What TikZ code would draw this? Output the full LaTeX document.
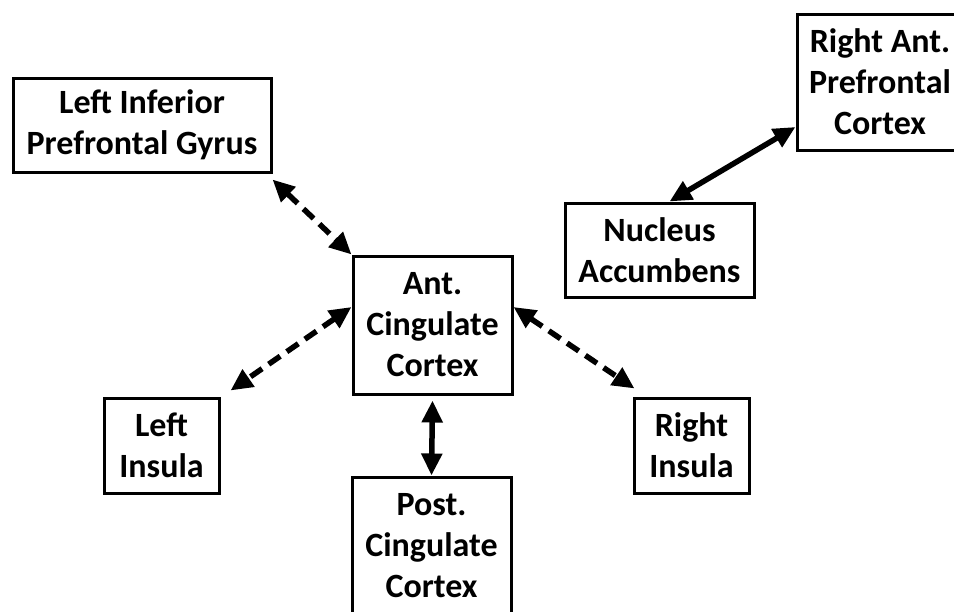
\documentclass[tikz,border=0pt]{standalone}
\usepackage{fontspec}
\setmainfont{Carlito}
\usetikzlibrary{arrows.meta}
\tikzset{
  box/.style={draw=black, line width=3pt, fill=white, inner sep=0pt, align=center,
    font=\fontsize{34}{41}\selectfont\bfseries},
  solidarrow/.style={line width=5.5pt, {Triangle[length=22pt,width=20pt]}-{Triangle[length=22pt,width=20pt]}},
  dasharrow/.style={solidarrow, dash pattern=on 14pt off 8pt},
}
\begin{document}
\begin{tikzpicture}[x=1pt,y=-1pt]
\useasboundingbox (0,0) rectangle (954,611);
\node[box, minimum width=258pt, minimum height=94pt] (lipg) at (142,125) {Left Inferior\\Prefrontal Gyrus};
\node[box, minimum width=166pt, minimum height=136pt] (rapc) at (880,82) {Right Ant.\\Prefrontal\\Cortex};
\node[box, minimum width=189pt, minimum height=94pt] (na) at (659.5,250) {Nucleus\\Accumbens};
\node[box, minimum width=159pt, minimum height=138pt] (acc) at (432.5,325) {Ant.\\Cingulate\\Cortex};
\node[box, minimum width=115pt, minimum height=95pt] (li) at (161.5,445.5) {Left\\Insula};
\node[box, minimum width=115pt, minimum height=95pt] (ri) at (691.5,445.5) {Right\\Insula};
\node[box, minimum width=159pt, minimum height=138pt] (pcc) at (431.5,546) {Post.\\Cingulate\\Cortex};

\draw[dasharrow] ([yshift=-6pt]lipg.south east) -- (acc.north west);
\draw[solidarrow] ([yshift=-45pt]rapc.west) -- ([xshift=10pt]na.north);
\draw[dasharrow] ([yshift=18pt]acc.west) -- ([shift={(10pt,6pt)}]li.north east);
\draw[dasharrow] ([yshift=18pt]acc.east) -- ([shift={(2pt,8pt)}]ri.north west);
\draw[solidarrow] ([yshift=-5pt]acc.south) -- (pcc.north);
\end{tikzpicture}
\end{document}
